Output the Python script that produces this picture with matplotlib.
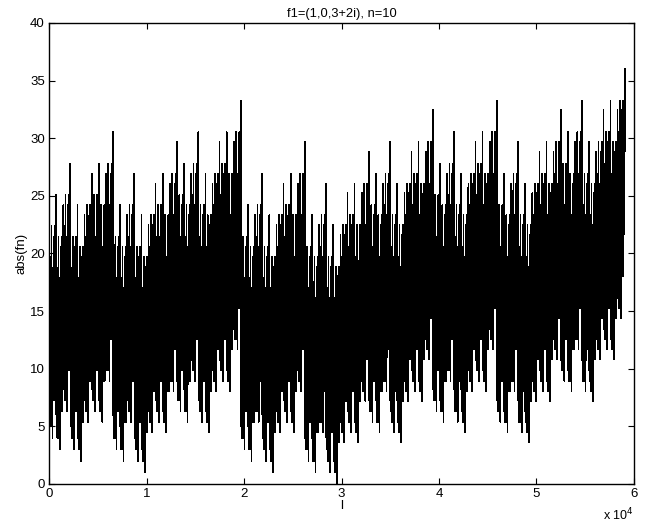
import numpy as np
import matplotlib
matplotlib.use('Agg')
import matplotlib.pyplot as plt

# generating vector and recursion depth, as given in the title
f1 = np.array([1, 0, 3 + 2j])
n = 10

x_ticks = [0, 10000, 20000, 30000, 40000, 50000, 60000]
x_tick_labels = ['0', '1', '2', '3', '4', '5', '6']
y_ticks = [0, 5, 10, 15, 20, 25, 30, 35, 40]

# build fn: each level repeats the previous one shifted by f1(1), f1(2), f1(3)
fn = f1.copy()
for k in range(n - 1):
    fn = np.concatenate([fn + f1[0], fn + f1[1], fn + f1[2]])
l = np.arange(1, len(fn) + 1)

plt.rcParams['font.family'] = ['Liberation Sans', 'DejaVu Sans']

fig = plt.figure(figsize=(6.58, 5.27), dpi=100)
ax = fig.add_axes([0.0745, 0.0816, 0.889, 0.8748])
ax.plot(l, np.abs(fn), color='black', linewidth=0.5, antialiased=False)

ax.set_xlim(0, 60000)
ax.set_ylim(0, 40)
ax.set_xticks(x_ticks)
ax.set_xticklabels(x_tick_labels)
ax.set_yticks(y_ticks)
ax.tick_params(direction='in', top=True, right=True, length=4, width=0.8,
               labelsize=9.5, pad=3)
for s in ax.spines.values():
    s.set_linewidth(1.0)

ax.set_title('f1=(1,0,3+2i), n=10', fontsize=9.3, pad=4)
ax.set_xlabel('l', fontsize=9.5, labelpad=0)
ax.set_ylabel('abs(fn)', fontsize=9.5, labelpad=2)
fig.text(634 / 658, 7 / 527, r'x 10$^4$', ha='right', va='baseline',
         fontsize=9)

fig.savefig('out.png', dpi=100)
